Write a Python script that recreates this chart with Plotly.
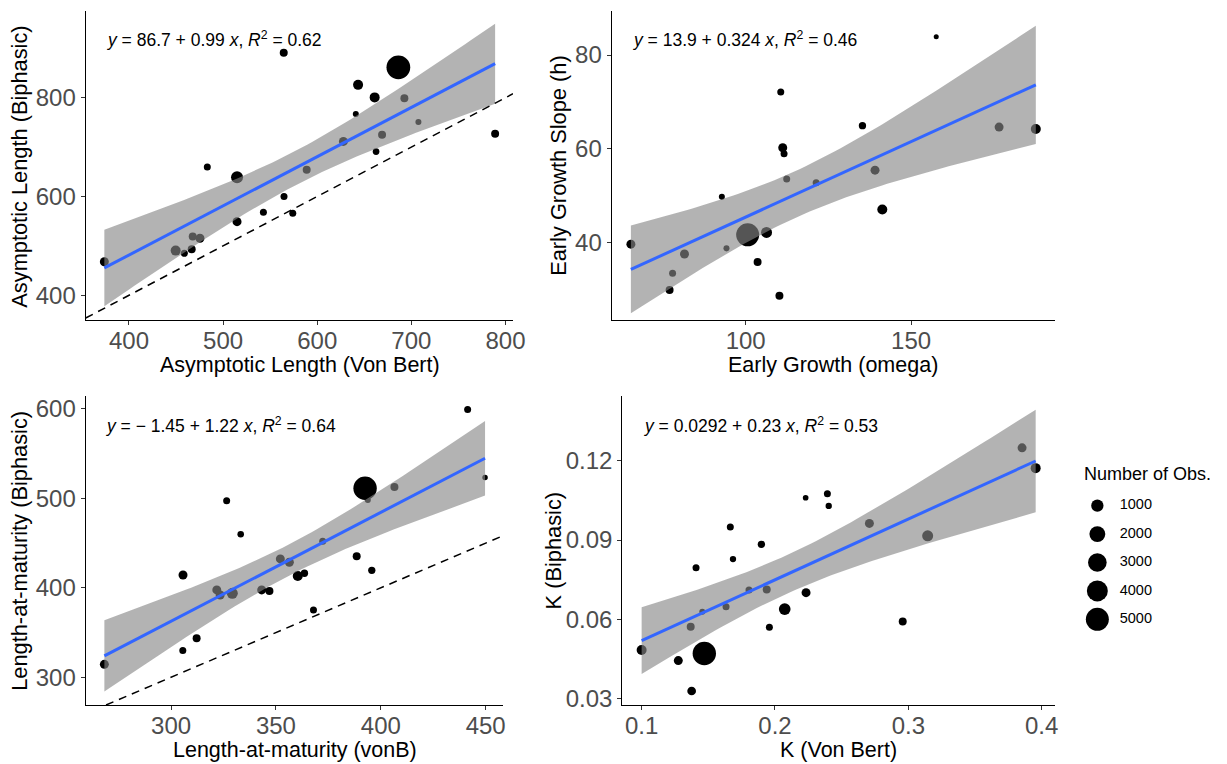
import numpy as np
import plotly.graph_objects as go

# ---------------- data ----------------
# Panel 1: Asymptotic length
p1_x = [373.8, 564.4, 686.2, 643.4, 661.0, 692.6, 641.0, 707.5, 789.0, 668.9, 627.8, 662.5,
        588.8, 483.2, 514.8, 564.7, 542.8, 574.0, 514.8, 467.7, 475.4, 449.6, 458.8, 466.6]
p1_y = [468.0, 891.0, 861.5, 826.0, 800.6, 799.0, 767.0, 750.7, 727.0, 725.0, 711.5, 691.0,
        654.0, 659.5, 639.0, 600.0, 568.0, 566.0, 549.0, 519.0, 515.5, 490.5, 485.0, 493.0]
p1_n = [380, 250, 5400, 540, 540, 250, 75, 75, 250, 250, 380, 125,
        250, 150, 930, 150, 150, 150, 380, 250, 380, 540, 150, 250]

# Panel 2: Early growth
p2_x = [65.3, 157.6, 110.6, 135.3, 176.6, 187.7, 111.2, 111.6, 112.4, 121.3, 139.1,
        92.8, 141.3, 100.6, 106.3, 94.2, 81.5, 103.6, 77.9, 77.0, 110.2]
p2_y = [39.6, 83.9, 72.1, 64.9, 64.6, 64.2, 60.2, 58.9, 53.5, 52.7, 55.4,
        49.7, 47.0, 41.6, 42.1, 38.7, 37.5, 35.8, 33.4, 29.8, 28.6]
p2_n = [380, 25, 150, 180, 380, 540, 380, 150, 150, 150, 380,
        75, 540, 5000, 720, 75, 380, 250, 150, 250, 250]

# Panel 3: Length-at-maturity
p3_x = [268.2, 441.4, 449.7, 392.5, 406.5, 393.8, 326.5, 333.2, 372.3, 352.1, 356.4, 388.5,
        395.7, 305.7, 360.4, 363.6, 321.8, 323.4, 329.2, 343.2, 346.9, 367.9, 312.2, 305.6]
p3_y = [314.5, 599.3, 523.3, 511.3, 512.8, 498.3, 497.5, 459.9, 452.1, 432.3, 428.6, 435.3,
        419.6, 414.4, 413.3, 416.3, 397.7, 392.0, 393.9, 397.7, 396.5, 375.3, 343.6, 329.8]
p3_n = [380, 150, 45, 5200, 250, 75, 150, 110, 150, 380, 380, 250,
        180, 380, 540, 180, 380, 380, 720, 380, 250, 150, 250, 150]

# Panel 4: K
p4_x = [0.1000, 0.1275, 0.1470, 0.1375, 0.1368, 0.1455, 0.1408, 0.1633, 0.1665, 0.1685, 0.1805, 0.1898,
        0.1938, 0.1958, 0.2073, 0.2230, 0.2233, 0.2393, 0.2403, 0.2708, 0.2958, 0.3145, 0.3853, 0.3955]
p4_y = [0.0484, 0.0444, 0.0471, 0.0329, 0.0572, 0.0629, 0.0795, 0.0648, 0.0949, 0.0828, 0.0711, 0.0884,
        0.0713, 0.0570, 0.0639, 0.1060, 0.0701, 0.1075, 0.1029, 0.0963, 0.0592, 0.0916, 0.1249, 0.1172]
p4_n = [540, 380, 5200, 340, 250, 75, 150, 150, 150, 95, 150, 180,
        250, 150, 865, 55, 380, 150, 95, 380, 250, 720, 380, 540]

equations = [
    "<i>y</i> = 86.7 + 0.99 <i>x</i>, <i>R</i><sup>2</sup> = 0.62",
    "<i>y</i> = 13.9 + 0.324 <i>x</i>, <i>R</i><sup>2</sup> = 0.46",
    "<i>y</i> = \u2212 1.45 + 1.22 <i>x</i>, <i>R</i><sup>2</sup> = 0.64",
    "<i>y</i> = 0.0292 + 0.23 <i>x</i>, <i>R</i><sup>2</sup> = 0.53",
]
x_titles = ["Asymptotic Length (Von Bert)", "Early Growth (omega)",
            "Length-at-maturity (vonB)", "K (Von Bert)"]
y_titles = ["Asymptotic Length (Biphasic)", "Early Growth Slope (h)",
            "Length-at-maturity (Biphasic)", "K (Biphasic)"]
legend_values = [1000, 2000, 3000, 4000, 5000]
legend_title = "Number of Obs."

# ---------------- styling / layout ----------------
W, H = 1227, 764
FONT = "Liberation Sans, Arial, Helvetica, sans-serif"
RIBBON = "rgba(135,135,135,0.63)"
BLUE = "#3366FF"


def diam(n):
    return 3.65 + 19.35 * np.sqrt(np.asarray(n, dtype=float) / 5000.0)


def t975(df):
    z = 1.959964
    g1 = (z**3 + z) / 4
    g2 = (5 * z**5 + 16 * z**3 + 3 * z) / 96
    g3 = (3 * z**7 + 19 * z**5 + 17 * z**3 - 15 * z) / 384
    return z + g1 / df + g2 / df**2 + g3 / df**3


def fit_band(x, y, m=80):
    X = np.asarray(x, float); Y = np.asarray(y, float); n = len(X)
    b, a = np.polyfit(X, Y, 1)
    xs = np.linspace(X.min(), X.max(), m)
    yhat = a + b * xs
    res = Y - (a + b * X)
    s = np.sqrt(np.sum(res**2) / (n - 2))
    sxx = np.sum((X - X.mean())**2)
    se = s * np.sqrt(1.0 / n + (xs - X.mean())**2 / sxx)
    t = t975(n - 2)
    return xs, yhat, yhat - t * se, yhat + t * se


def px_x(p):
    return p / W


def px_y(p):
    return 1 - p / H


panels = [
    dict(x=p1_x, y=p1_y, n=p1_n, dom_x=(85.7, 513), dom_y=(11, 320),
         xr=[354, 808], yr=[350, 975.5], xt=[400, 500, 600, 700, 800], yt=[400, 600, 800],
         xfmt="d", yfmt="d", diag=True),
    dict(x=p2_x, y=p2_y, n=p2_n, dom_x=(611.7, 1055), dom_y=(11, 320),
         xr=[59.5, 193.5], yr=[23.4, 89.4], xt=[100, 150], yt=[40, 60, 80],
         xfmt="d", yfmt="d", diag=False),
    dict(x=p3_x, y=p3_y, n=p3_n, dom_x=(85.7, 503.3), dom_y=(396, 705),
         xr=[259.3, 458.4], yr=[269, 614.5], xt=[300, 350, 400, 450], yt=[300, 400, 500, 600],
         xfmt="d", yfmt="d", diag=True),
    dict(x=p4_x, y=p4_y, n=p4_n, dom_x=(622.3, 1055), dom_y=(396, 705),
         xr=[0.0855, 0.41], yr=[0.0276, 0.1445], xt=[0.1, 0.2, 0.3, 0.4], yt=[0.03, 0.06, 0.09, 0.12],
         xfmt=".1f", yfmt=".2f", diag=False),
]

eq_pos = [(104.7, 39), (631.3, 39), (104, 424.8), (642, 424.5)]
xt_pos = [(300, 365.3), (833.3, 365.3), (295, 750.3), (838.3, 750.3)]
yt_pos = [(20, 166.7), (559, 165.8), (20, 550.8), (553.6, 550.8)]

fig = go.Figure()
layout = dict(width=W, height=H, margin=dict(l=0, r=0, t=0, b=0, pad=0, autoexpand=False),
              paper_bgcolor="white", plot_bgcolor="white", showlegend=False,
              font=dict(family=FONT))
annotations = []

for i, p in enumerate(panels, start=1):
    xa = "x" if i == 1 else f"x{i}"
    ya = "y" if i == 1 else f"y{i}"
    axis_common = dict(showgrid=False, zeroline=False, showline=True, linecolor="black",
                       linewidth=1.2, ticks="outside", ticklen=4, tickwidth=1.1, automargin=False,
                       tickcolor="#333333", tickfont=dict(size=24, color="#4D4D4D", family=FONT))
    layout["xaxis" if i == 1 else f"xaxis{i}"] = dict(
        axis_common, domain=[px_x(p["dom_x"][0]), px_x(p["dom_x"][1])], range=p["xr"],
        tickvals=p["xt"], tickformat=p["xfmt"], anchor=ya, ticklabelstandoff=-5)
    layout["yaxis" if i == 1 else f"yaxis{i}"] = dict(
        axis_common, domain=[px_y(p["dom_y"][1]), px_y(p["dom_y"][0])], range=p["yr"],
        tickvals=p["yt"], tickformat=p["yfmt"], anchor=xa)

    # points (black); the ribbon is drawn over them, greying the ones inside it
    fig.add_trace(go.Scatter(x=p["x"], y=p["y"], mode="markers", xaxis=xa, yaxis=ya,
                             marker=dict(color="black", opacity=1, size=diam(p["n"]),
                                         line=dict(width=0)),
                             hoverinfo="skip"))
    xs, yhat, lo, hi = fit_band(p["x"], p["y"])
    fig.add_trace(go.Scatter(x=np.concatenate([xs, xs[::-1]]), y=np.concatenate([hi, lo[::-1]]),
                             mode="lines", fill="toself", fillcolor=RIBBON, line=dict(width=0),
                             xaxis=xa, yaxis=ya, hoverinfo="skip"))
    fig.add_trace(go.Scatter(x=xs, y=yhat, mode="lines", line=dict(color=BLUE, width=3),
                             xaxis=xa, yaxis=ya, hoverinfo="skip"))
    # 1:1 reference line
    if p["diag"]:
        lo_d = max(p["xr"][0], p["yr"][0])
        hi_d = min(p["xr"][1], p["yr"][1])
        fig.add_trace(go.Scatter(x=[lo_d, hi_d], y=[lo_d, hi_d], mode="lines",
                                 line=dict(color="black", width=1.5, dash="8px,6px"),
                                 xaxis=xa, yaxis=ya, hoverinfo="skip"))

    ex, ey = eq_pos[i - 1]
    annotations.append(dict(text=equations[i - 1], x=px_x(ex), y=px_y(ey), xref="paper", yref="paper",
                            xanchor="left", yanchor="middle", showarrow=False,
                            font=dict(size=17.5, color="black", family=FONT)))
    tx, ty = xt_pos[i - 1]
    annotations.append(dict(text=x_titles[i - 1], x=px_x(tx), y=px_y(ty), xref="paper", yref="paper",
                            xanchor="center", yanchor="middle", showarrow=False,
                            font=dict(size=21.5, color="black", family=FONT)))
    vx, vy = yt_pos[i - 1]
    annotations.append(dict(text=y_titles[i - 1], x=px_x(vx), y=px_y(vy), xref="paper", yref="paper",
                            xanchor="center", yanchor="middle", showarrow=False, textangle=-90,
                            font=dict(size=21.8, color="black", family=FONT)))

# ---------------- size legend ----------------
leg_idx = list(range(len(legend_values)))
layout["xaxis5"] = dict(domain=[px_x(1080), px_x(1227)], range=[0, 1], visible=False, anchor="y5",
                        fixedrange=True, automargin=False)
layout["yaxis5"] = dict(domain=[px_y(640), px_y(490)], range=[4.729, -0.553], visible=False,
                        anchor="x5", fixedrange=True, automargin=False)
fig.add_trace(go.Scatter(x=[0.118] * len(legend_values), y=leg_idx, mode="markers",
                         marker=dict(color="black", opacity=1, size=diam(legend_values),
                                     line=dict(width=0)),
                         xaxis="x5", yaxis="y5", hoverinfo="skip"))
fig.add_trace(go.Scatter(x=[0.27] * len(legend_values), y=leg_idx, mode="text",
                         text=[str(v) for v in legend_values], textposition="middle right",
                         textfont=dict(size=14.5, color="black", family=FONT),
                         xaxis="x5", yaxis="y5", hoverinfo="skip"))
annotations.append(dict(text=legend_title, x=px_x(1081.5), y=px_y(474), xref="paper", yref="paper",
                        xanchor="left", yanchor="middle", showarrow=False,
                        font=dict(size=18, color="black", family=FONT)))

layout["annotations"] = annotations
fig.update_layout(**layout)

post = ("document.body.style.margin='0px';document.body.style.overflow='hidden';"
        "document.documentElement.style.overflow='hidden';")
fig.write_html("out.html", post_script=post, config={"displayModeBar": False})
